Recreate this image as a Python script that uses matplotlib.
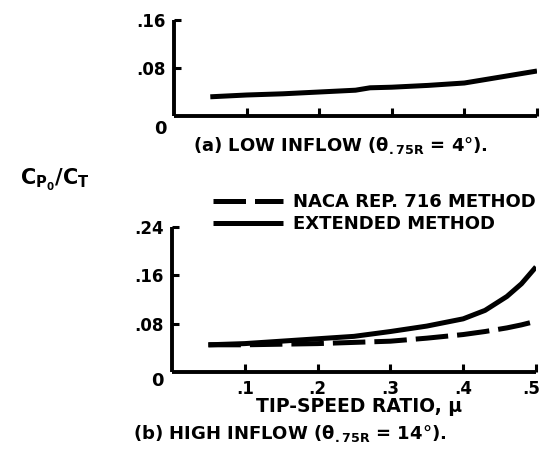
import matplotlib
matplotlib.use("Agg")
import matplotlib.pyplot as plt
from matplotlib.transforms import ScaledTranslation

plt.rcParams['font.family'] = ['DejaVu Sans']
plt.rcParams['font.weight'] = 'bold'
plt.rcParams['mathtext.default'] = 'bf'

# (a) low inflow, extended method
mu_low = [0.05, 0.10, 0.15, 0.20, 0.25, 0.27, 0.30, 0.35, 0.40, 0.45, 0.50]
cp_low = [0.032, 0.035, 0.037, 0.040, 0.043, 0.047, 0.048, 0.051, 0.055, 0.065, 0.075]

# (b) high inflow
mu_high = [0.05, 0.10, 0.15, 0.20, 0.25, 0.30, 0.35, 0.40, 0.43, 0.46, 0.48, 0.50]
cp_ext = [0.045, 0.047, 0.051, 0.055, 0.059, 0.067, 0.076, 0.088, 0.102, 0.125, 0.146, 0.174]
cp_naca = [0.045, 0.045, 0.046, 0.047, 0.049, 0.051, 0.056, 0.062, 0.067, 0.073, 0.078, 0.084]

x_ticks = [0.1, 0.2, 0.3, 0.4, 0.5]
x_ticklabels = ['.1', '.2', '.3', '.4', '.5']
y_ticks_low = [0.08, 0.16]
y_ticklabels_low = ['.08', '.16']
y_ticks_high = [0.08, 0.16, 0.24]
y_ticklabels_high = ['.08', '.16', '.24']

W, H = 540, 467
fig = plt.figure(figsize=(W / 100, H / 100), dpi=100)

def px_axes(x0, x1, y_top, y_bot):
    return fig.add_axes([x0 / W, 1 - y_bot / H, (x1 - x0) / W, (y_bot - y_top) / H])

ax1 = px_axes(174, 537, 20, 116)
ax2 = px_axes(172, 536, 227, 372)

FS = 12
LW_SPINE = 2.8
LW_CURVE = 3.6

for ax in (ax1, ax2):
    ax.set_xlim(0, 0.5)
    for s in ('top', 'right'):
        ax.spines[s].set_visible(False)
    for s in ('left', 'bottom'):
        ax.spines[s].set_linewidth(LW_SPINE)
        ax.spines[s].set_capstyle('butt')
    ax.tick_params(direction='in', length=6, width=2.2, labelsize=FS, pad=6)
    ax.tick_params(axis='y', length=5)
    ax.set_xticks(x_ticks)

ax1.set_ylim(0, 0.16)
ax1.set_yticks(y_ticks_low)
ax1.set_yticklabels(y_ticklabels_low)
ax1.set_xticklabels([])
ax1.plot(mu_low, cp_low, color='black', lw=LW_CURVE, solid_capstyle='butt')

ax2.set_ylim(0, 0.24)
ax2.set_yticks(y_ticks_high)
ax2.set_yticklabels(y_ticklabels_high)
ax2.set_xticklabels(x_ticklabels)
# keep the last tick label inside the figure edge
last = ax2.get_xticklabels()[-1]
last.set_transform(last.get_transform() + ScaledTranslation(-5 / 100, 0, fig.dpi_scale_trans))

naca, = ax2.plot(mu_high, cp_naca, color='black', lw=LW_CURVE,
                 linestyle=(0, (6.5, 1.8)), dash_capstyle='butt')
ext, = ax2.plot(mu_high, cp_ext, color='black', lw=LW_CURVE, solid_capstyle='butt')

# zero labels at each origin
fig.text(160 / W, 1 - 129 / H, '0', ha='center', va='center', fontsize=FS + 1)
fig.text(157 / W, 1 - 381 / H, '0', ha='center', va='center', fontsize=FS + 1)

fig.text(340 / W, 1 - 145 / H, r'(a) LOW INFLOW ($\theta_{.75R}$ = 4°).',
         ha='center', va='center', fontsize=13)
fig.text(359 / W, 1 - 407 / H, 'TIP-SPEED RATIO, μ',
         ha='center', va='center', fontsize=13.5)
fig.text(290 / W, 1 - 433 / H, r'(b) HIGH INFLOW ($\theta_{.75R}$ = 14°).',
         ha='center', va='center', fontsize=13)

fig.text(55 / W, 1 - 180 / H, r'$C_{P_0}/C_T$', ha='center', va='center', fontsize=15)

leg = fig.legend([naca, ext], ['NACA REP. 716 METHOD', 'EXTENDED METHOD'],
                 loc='upper left', bbox_to_anchor=(213 / W, 1 - 193 / H),
                 frameon=False, fontsize=13, handlelength=3.9,
                 handletextpad=0.55, labelspacing=0.22, borderpad=0, borderaxespad=0)

fig.savefig('out.png', dpi=100)
